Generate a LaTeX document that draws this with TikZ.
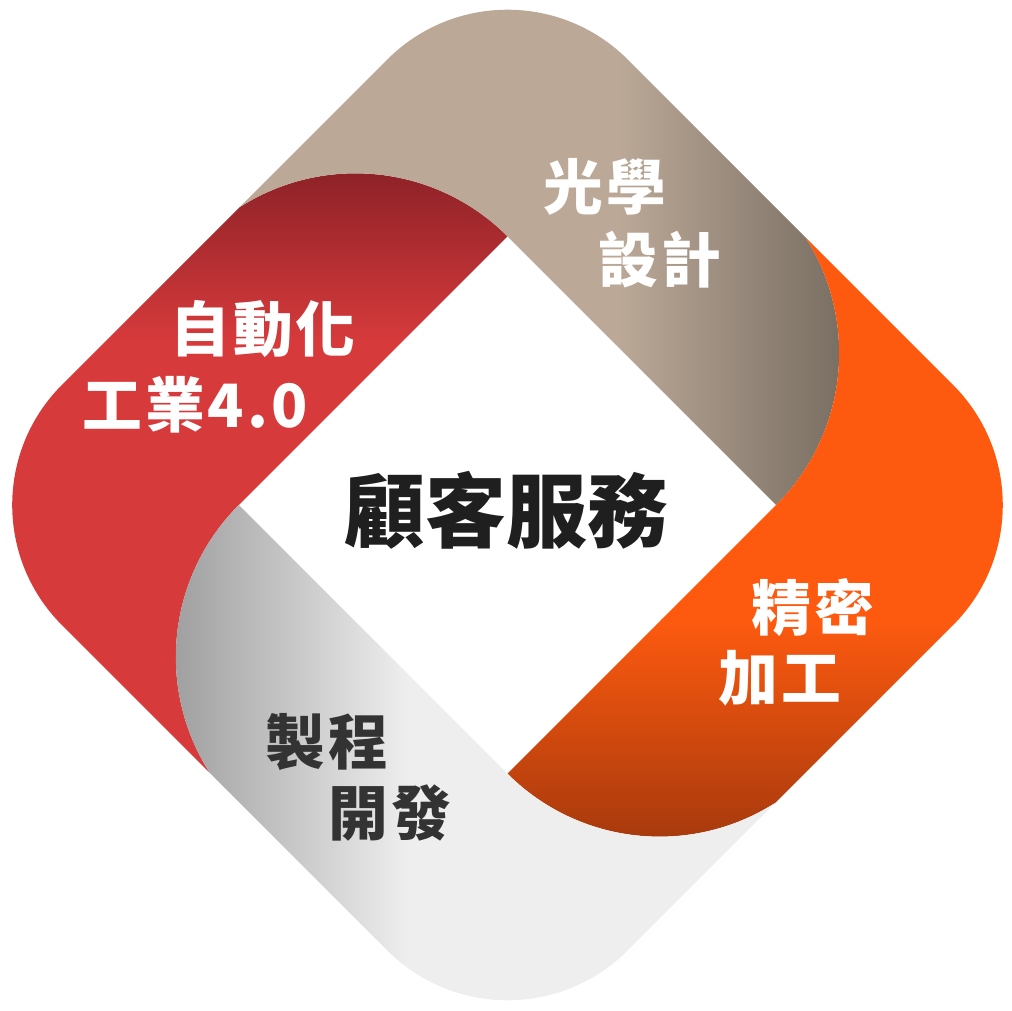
\documentclass[tikz,border=0pt]{standalone}
\usepackage{fontspec}
\setmainfont{Noto Sans CJK TC}
\newfontfamily\lblfont{Noto Sans CJK TC}[LetterSpace=5]
\definecolor{redbase}{HTML}{D63A3B}
\definecolor{reddark}{HTML}{8A2127}
\definecolor{beigebase}{HTML}{BBA897}
\definecolor{beigedark}{HTML}{776D61}
\definecolor{orangebase}{HTML}{FD5A0F}
\definecolor{orangedark}{HTML}{A3380D}
\definecolor{graybase}{HTML}{EEEEEE}
\definecolor{graydark}{HTML}{9F9F9F}
\definecolor{txtdark}{HTML}{333333}
\tikzset{
  band_lbl/.style = {inner sep=0pt, white,
    font=\lblfont\fontsize{34}{40}\selectfont\bfseries},% texte blanc des bandes
  band_lbl_d/.style = {band_lbl, txtdark},% texte sombre (bande grise)
  core_lbl/.style = {inner sep=0pt, black!88,
    font=\fontsize{46}{54}\selectfont\bfseries}% texte du centre
}

\begin{document}
\begin{tikzpicture}[x=0.02cm, y=0.02cm]
\useasboundingbox (-507.5,-506) rectangle (504.5,505);
\begin{scope}
  \clip[rotate=45, rounded corners=3.4cm] (-400,-400) rectangle (400,400);
  % bande rouge
  \begin{scope}
    \clip[rotate=45] (-400,190) -- (190,190)
        arc[start angle=0, end angle=77.62, radius=215] -- (-400,400) -- cycle
      (-190,190) arc[start angle=90, end angle=167.62, radius=215] -- (-400,190) -- cycle;
    \fill[redbase] (-510,-510) rectangle (510,165);
    \shade[bottom color=redbase, top color=reddark] (-510,165) rectangle (510,340);
    \fill[reddark] (-510,340) rectangle (510,510);
  \end{scope}
  % bande beige
  \begin{scope}
    \clip[rotate=45] (190,400) -- (190,-190)
        arc[start angle=-90, end angle=-12.38, radius=215] -- (400,400) -- cycle
      (190,190) arc[start angle=0, end angle=77.62, radius=215] -- (190,400) -- cycle;
    \fill[beigebase] (-510,-510) rectangle (112,510);
    \shade[left color=beigebase, right color=beigedark] (112,-510) rectangle (340,510);
    \fill[beigedark] (340,-510) rectangle (510,510);
  \end{scope}
  % bande orange
  \begin{scope}
    \clip[rotate=45] (400,-190) -- (-190,-190)
        arc[start angle=180, end angle=257.62, radius=215] -- (400,-400) -- cycle
      (190,-190) arc[start angle=-90, end angle=-12.38, radius=215] -- (400,-190) -- cycle;
    \fill[orangebase] (-510,-115) rectangle (510,510);
    \shade[top color=orangebase, bottom color=orangedark] (-510,-345) rectangle (510,-115);
    \fill[orangedark] (-510,-510) rectangle (510,-345);
  \end{scope}
  % bande grise
  \begin{scope}
    \clip[rotate=45] (-190,-400) -- (-190,190)
        arc[start angle=90, end angle=167.62, radius=215] -- (-400,-400) -- cycle
      (-190,-190) arc[start angle=180, end angle=257.62, radius=215] -- (-190,-400) -- cycle;
    \fill[graybase] (-100,-510) rectangle (510,510);
    \shade[left color=graydark, right color=graybase] (-335,-510) rectangle (-100,510);
    \fill[graydark] (-510,-510) rectangle (-335,510);
  \end{scope}
\end{scope}

\node [band_lbl] (opt1) at (97.5,318) {光學};
\node [band_lbl] (opt2) at (152.5,245) {設計};
\node [band_lbl] (auto1) at (-244.5,176) {自動化};
\node [band_lbl] (auto2) at (-312.5,100) {工業4.0};
\node [band_lbl] (prec1) at (305.5,-103) {精密};
\node [band_lbl] (prec2) at (272.5,-173) {加工};
\node [band_lbl_d] (proc1) at (-180.5,-237) {製程};
\node [band_lbl_d] (proc2) at (-117.5,-308) {開發};
\node [core_lbl] (core) at (-1,-5) {顧客服務};
\end{tikzpicture}
\end{document}
